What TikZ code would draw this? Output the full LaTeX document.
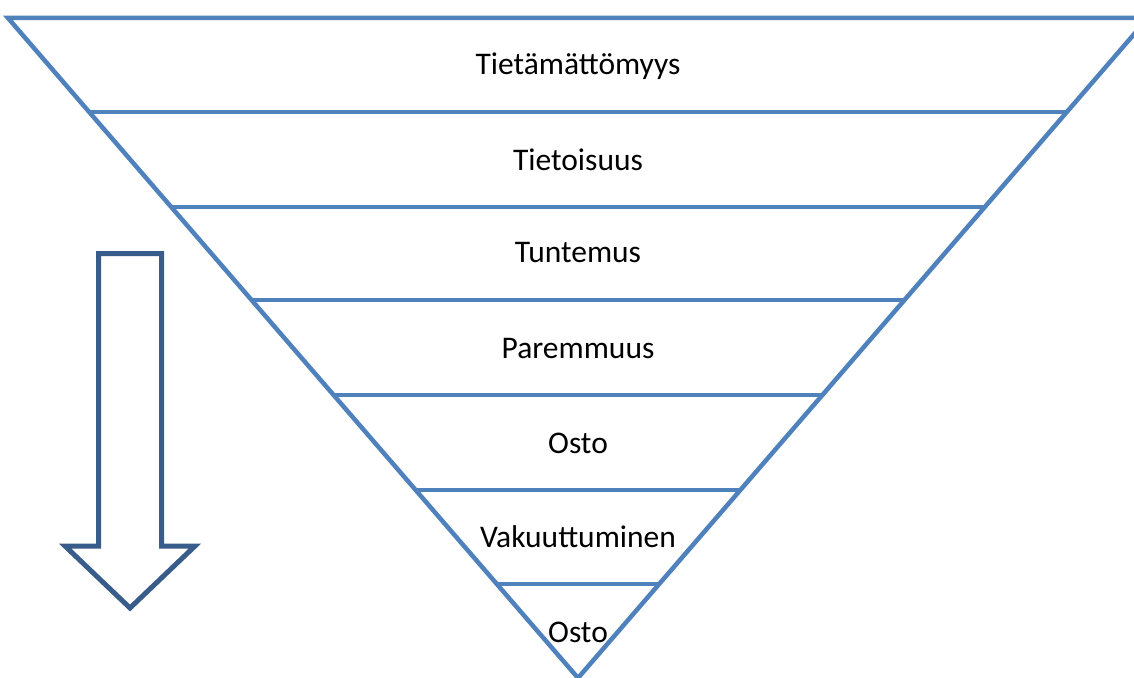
\documentclass[tikz,border=0pt]{standalone}
\usepackage{fontspec}
\setmainfont{Carlito}
\usetikzlibrary{calc}
\definecolor{funnelblue}{HTML}{4F81BD}
\definecolor{arrowblue}{HTML}{385D8A}
\begin{document}
\begin{tikzpicture}[x=1pt,y=-1pt,
  funnel/.style={draw=funnelblue,line width=4.5pt,line join=miter},
  stage/.style={font=\fontsize{31.5}{34}\selectfont,text=black,inner sep=0pt},
  bigarrow/.style={draw=arrowblue,line width=5pt,line join=miter,fill=white}]
\useasboundingbox (0,0) rectangle (1134,677);
\clip (0,0) rectangle (1134,677);
% funnel outline
\coordinate (tl) at (8,18);
\coordinate (tr) at (1148,18);
\coordinate (apex) at (578,678);
\draw[funnel] (tl) -- (tr) -- (apex) -- cycle;
% dividing lines between the stages
\foreach \yy in {112,207,300,395,490,584}{
  \pgfmathsetmacro{\fr}{(\yy-18)/(678-18)}
  \draw[funnel] ($(tl)!\fr!(apex)$) -- ($(tr)!\fr!(apex)$);
}
% stage labels
\node[stage] (s1) at (578,66) {Tietämättömyys};
\node[stage] (s2) at (578,160) {Tietoisuus};
\node[stage] (s3) at (578,253) {Tuntemus};
\node[stage] (s4) at (578,349) {Paremmuus};
\node[stage] (s5) at (578,443) {Osto};
\node[stage] (s6) at (578,537) {Vakuuttuminen};
\node[stage] (s7) at (578,632) {Osto};
% downward block arrow
\draw[bigarrow] (98.5,253.5) -- (161.5,253.5) -- (161.5,546) -- (195,546) -- (130,608)
  -- (65,546) -- (98.5,546) -- cycle;
\end{tikzpicture}
\end{document}
